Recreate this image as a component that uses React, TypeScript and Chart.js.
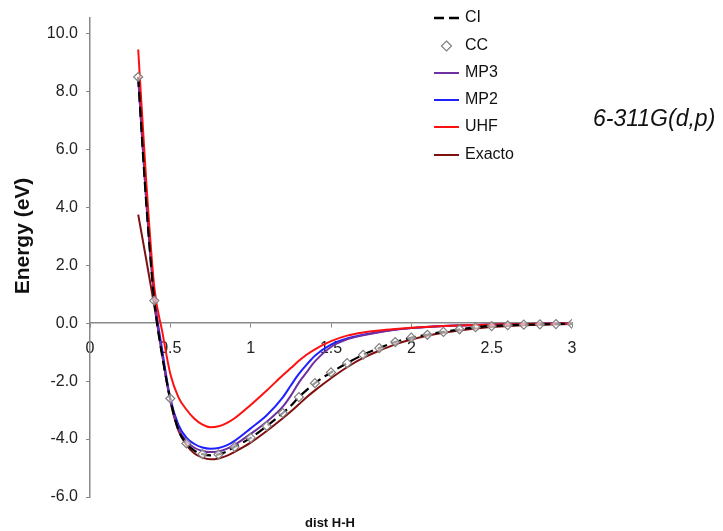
import React, { useEffect, useRef } from "react";
import { Chart, registerables } from "chart.js";

Chart.register(...registerables);

// ---- data ----
const xFine = [0.3, 0.35, 0.4, 0.45, 0.5, 0.55, 0.6, 0.65, 0.7, 0.75, 0.8, 0.85, 0.9, 1.0, 1.1, 1.2, 1.25, 1.3, 1.35, 1.4, 1.5, 1.6, 1.7, 1.8, 1.9, 2.0, 2.2, 2.4, 2.6, 2.8, 3.0];

const ciValues = [8.5, 4.15, 0.78, -1.15, -2.62, -3.68, -4.15, -4.4, -4.52, -4.56, -4.53, -4.43, -4.27, -3.96, -3.55, -3.1, -2.85, -2.55, -2.3, -2.07, -1.7, -1.38, -1.09, -0.86, -0.65, -0.5, -0.3, -0.14, -0.07, -0.04, -0.02];
const mp3Values = [8.5, 4.2, 0.85, -1.1, -2.65, -3.62, -4.07, -4.3, -4.41, -4.45, -4.43, -4.34, -4.2, -3.82, -3.4, -2.88, -2.5, -2.05, -1.68, -1.32, -0.82, -0.56, -0.42, -0.31, -0.23, -0.17, -0.1, -0.06, -0.04, -0.02, -0.01];
const mp2Values = [8.5, 4.3, 0.95, -0.95, -2.6, -3.5, -3.95, -4.17, -4.29, -4.33, -4.31, -4.22, -4.06, -3.63, -3.18, -2.56, -2.15, -1.75, -1.42, -1.12, -0.74, -0.53, -0.4, -0.3, -0.22, -0.17, -0.1, -0.06, -0.04, -0.02, -0.01];
const uhfValues = [9.45, 4.9, 1.25, -0.3, -1.75, -2.55, -2.98, -3.3, -3.5, -3.59, -3.56, -3.45, -3.28, -2.82, -2.32, -1.8, -1.55, -1.3, -1.08, -0.9, -0.62, -0.43, -0.32, -0.25, -0.2, -0.16, -0.1, -0.06, -0.04, -0.02, -0.01];
const exactValues = [3.75, 2.2, 0.6, -1.1, -2.7, -3.7, -4.2, -4.5, -4.64, -4.7, -4.67, -4.58, -4.44, -4.12, -3.72, -3.28, -3.05, -2.8, -2.55, -2.32, -1.9, -1.52, -1.2, -0.95, -0.73, -0.56, -0.33, -0.18, -0.1, -0.05, -0.03];

const ccX = [0.3, 0.4, 0.5, 0.6, 0.7, 0.8, 0.9, 1.0, 1.1, 1.2, 1.3, 1.4, 1.5, 1.6, 1.7, 1.8, 1.9, 2.0, 2.1, 2.2, 2.3, 2.4, 2.5, 2.6, 2.7, 2.8, 2.9, 3.0];
const ccValues = [8.5, 0.78, -2.6, -4.15, -4.52, -4.53, -4.27, -3.96, -3.55, -3.1, -2.55, -2.07, -1.7, -1.38, -1.09, -0.86, -0.65, -0.5, -0.4, -0.3, -0.21, -0.14, -0.1, -0.07, -0.05, -0.04, -0.03, -0.02];

const xTicks = [0, 0.5, 1, 1.5, 2, 2.5, 3];
const yTicks = [-6, -4, -2, 0, 2, 4, 6, 8, 10];
const seriesNames = ["CI", "CC", "MP3", "MP2", "UHF", "Exacto"];
const xTitle = "dist H-H";
const yTitle = "Energy (eV)";
const basisLabel = "6-311G(d,p)";

const FONT = '"Liberation Sans", Arial, sans-serif';
const colors = {
  CI: "#000000",
  CC: "#7f7f7f",
  MP3: "#7030a0",
  MP2: "#1f1fff",
  UHF: "#ff1010",
  Exacto: "#7f1010",
};

const pts = (xs: number[], ys: number[]) => xs.map((x, i) => ({ x, y: ys[i] }));

const textPlugin = {
  id: "textPlugin",
  afterDraw(chart: any) {
    const ctx = chart.ctx as CanvasRenderingContext2D;
    ctx.save();
    // y title
    ctx.fillStyle = "#111";
    ctx.font = `bold 21px ${FONT}`;
    ctx.textAlign = "center";
    ctx.textBaseline = "middle";
    ctx.save();
    ctx.translate(23, 236);
    ctx.rotate(-Math.PI / 2);
    ctx.fillText(yTitle, 0, 0);
    ctx.restore();
    // x title
    ctx.font = `bold 13px ${FONT}`;
    ctx.fillText(xTitle, 330, 523);
    // basis label
    ctx.font = `italic 23px ${FONT}`;
    ctx.textAlign = "left";
    ctx.fillText(basisLabel, 593, 120);
    // legend
    const rows = [18, 46, 73, 100, 127, 155];
    const textX = 465;
    const x1 = 434, x2 = 459;
    seriesNames.forEach((name, i) => {
      const y = rows[i];
      ctx.save();
      if (name === "CC") {
        const cx = (x1 + x2) / 2;
        ctx.beginPath();
        ctx.moveTo(cx, y - 5);
        ctx.lineTo(cx + 5, y);
        ctx.lineTo(cx, y + 5);
        ctx.lineTo(cx - 5, y);
        ctx.closePath();
        ctx.fillStyle = "#fff";
        ctx.fill();
        ctx.strokeStyle = colors.CC;
        ctx.lineWidth = 1.2;
        ctx.stroke();
      } else {
        ctx.beginPath();
        ctx.strokeStyle = (colors as any)[name];
        ctx.lineWidth = name === "CI" ? 2.5 : 2;
        if (name === "CI") ctx.setLineDash([10, 5]);
        ctx.moveTo(x1, y);
        ctx.lineTo(x2, y);
        ctx.stroke();
      }
      ctx.restore();
      ctx.fillStyle = "#111";
      ctx.font = `16px ${FONT}`;
      ctx.textAlign = "left";
      ctx.textBaseline = "middle";
      ctx.fillText(name, textX, y);
    });
    ctx.restore();
  },
};

export default function App() {
  const ref = useRef<HTMLCanvasElement | null>(null);
  useEffect(() => {
    if (!ref.current) return;
    const lineDs = (label: string, ys: number[], order: number, extra: any = {}) => ({
      label,
      data: pts(xFine, ys),
      borderColor: (colors as any)[label],
      backgroundColor: (colors as any)[label],
      borderWidth: 2,
      pointRadius: 0,
      cubicInterpolationMode: "monotone",
      fill: false,
      order,
      ...extra,
    });
    const chart = new Chart(ref.current, {
      type: "scatter",
      data: {
        datasets: [
          lineDs("CI", ciValues, 1, { borderDash: [10, 5], borderWidth: 2.2, showLine: true }),
          {
            label: "CC",
            data: pts(ccX, ccValues),
            showLine: false,
            pointStyle: "rectRot",
            pointRadius: 4.5,
            pointBorderWidth: 1.2,
            pointBorderColor: colors.CC,
            pointBackgroundColor: "rgba(255,255,255,0.6)",
            order: 0,
          } as any,
          lineDs("MP3", mp3Values, 3, { showLine: true }),
          lineDs("MP2", mp2Values, 4, { showLine: true }),
          lineDs("UHF", uhfValues, 2, { showLine: true }),
          lineDs("Exacto", exactValues, 5, { showLine: true }),
        ] as any,
      },
      options: {
        responsive: false,
        animation: false,
        layout: { padding: { left: 0, top: 15, right: 151, bottom: 34 } },
        plugins: {
          legend: { display: false },
          title: { display: false },
          tooltip: { enabled: false },
        },
        scales: {
          x: {
            type: "linear",
            position: { y: 0 } as any,
            min: 0,
            max: 3,
            afterBuildTicks: (s: any) => {
              s.ticks = xTicks.map((v) => ({ value: v }));
            },
            afterFit: (s: any) => {
              s.height = 0;
            },
            grid: { drawOnChartArea: false, drawTicks: true, tickLength: 4, color: "#888" },
            border: { display: true, color: "#888", width: 1.5 },
            ticks: {
              padding: 12,
              color: "#222",
              font: { family: FONT, size: 16 },
              maxRotation: 0,
              autoSkip: false,
              callback: (v: any) => String(v),
            },
          },
          y: {
            type: "linear",
            min: -6,
            max: 10.55,
            afterBuildTicks: (s: any) => {
              s.ticks = yTicks.map((v) => ({ value: v }));
            },
            afterFit: (s: any) => {
              s.width = 90;
            },
            grid: { drawOnChartArea: false, drawTicks: true, tickLength: 4, color: "#888" },
            border: { display: true, color: "#888", width: 1.5 },
            ticks: {
              padding: 8,
              color: "#222",
              font: { family: FONT, size: 16 },
              autoSkip: false,
              callback: (v: any) => Number(v).toFixed(1),
            },
          },
        },
      },
      plugins: [textPlugin],
    });
    return () => chart.destroy();
  }, []);
  return (
    <div style={{ position: "absolute", left: 0, top: 0, width: 723, height: 531, background: "#fff" }}>
      <canvas ref={ref} width={723} height={531} style={{ display: "block" }} />
    </div>
  );
}
